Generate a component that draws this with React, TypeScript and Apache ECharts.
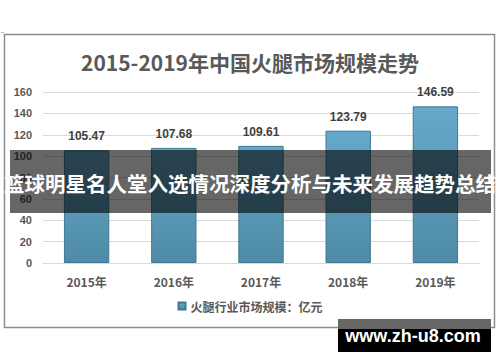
import React, { useEffect, useRef } from "react";
import * as echarts from "echarts";

const titleText = "2015-2019年中国火腿市场规模走势";
const categories = ["2015年", "2016年", "2017年", "2018年", "2019年"];
const values = [105.47, 107.68, 109.61, 123.79, 146.59];
const seriesName = "火腿行业市场规模：亿元";
const overlayText = "篮球明星名人堂入选情况深度分析与未来发展趋势总结";
const watermarkText = "www.zh-u8.com";

export default function App() {
  const ref = useRef<HTMLDivElement>(null);
  useEffect(() => {
    if (!ref.current) return;
    const chart = echarts.init(ref.current, null, { renderer: "svg" });
    const cjk = "'Noto Sans CJK SC', 'Liberation Sans', sans-serif";
    chart.setOption({
      animation: false,
      backgroundColor: "#ffffff",
      title: {
        text: titleText,
        left: "center",
        top: 46,
        textStyle: { fontSize: 21, fontWeight: "bold", color: "#595959", fontFamily: cjk },
      },
      legend: {
        data: [seriesName],
        bottom: 45,
        left: "center",
        itemWidth: 7,
        itemHeight: 7,
        icon: "rect",
        textStyle: { fontSize: 12, fontWeight: "bold", color: "#595959", fontFamily: cjk },
      },
      grid: { left: 43, right: 21, top: 92, bottom: 99 },
      xAxis: {
        type: "category",
        data: categories,
        axisTick: { show: false },
        axisLine: { lineStyle: { color: "#d9d9d9" } },
        axisLabel: { fontSize: 12, fontWeight: "bold", color: "#595959", margin: 12, fontFamily: cjk },
      },
      yAxis: {
        type: "value",
        min: 0,
        max: 160,
        interval: 20,
        axisLine: { show: false },
        axisTick: { show: false },
        splitLine: { lineStyle: { color: "#d9d9d9" } },
        axisLabel: { fontSize: 11, fontWeight: "bold", color: "#595959", margin: 11, fontFamily: "'Liberation Sans', sans-serif" },
      },
      series: [
        {
          name: seriesName,
          type: "bar",
          data: values,
          barWidth: "52%",
          itemStyle: {
            color: new echarts.graphic.LinearGradient(0, 0, 0, 1, [
              { offset: 0, color: "#66a9ca" },
              { offset: 1, color: "#4f8ba6" },
            ]),
            borderColor: "#3f7891",
            borderWidth: 1,
          },
          label: {
            show: true,
            position: "top",
            distance: 8,
            fontSize: 12,
            fontWeight: "bold",
            color: "#404040",
            fontFamily: "'Liberation Sans', sans-serif",
          },
        },
      ],
      graphic: [
        {
          type: "rect",
          z: 0,
          silent: true,
          shape: { x: 4.5, y: 34.5, width: 490, height: 293 },
          style: { fill: "none", stroke: "#8c8c8c", lineWidth: 1.5 },
        },
        {
          type: "line",
          z: 0,
          silent: true,
          shape: { x1: 1, y1: 32.5, x2: 4, y2: 32.5 },
          style: { stroke: "#bbbbbb", lineWidth: 1 },
        },
        {
          type: "rect",
          z: 100,
          silent: true,
          shape: { x: 10, y: 150, width: 481, height: 63 },
          style: { fill: "rgba(0,0,0,0.6)" },
        },
        {
          type: "text",
          z: 101,
          silent: true,
          x: 250,
          y: 183,
          style: {
            text: overlayText,
            fill: "#ffffff",
            fontSize: 20.5,
            fontWeight: "bold",
            fontFamily: cjk,
            align: "center",
            verticalAlign: "middle",
          },
        },
        {
          type: "rect",
          z: 100,
          silent: true,
          shape: { x: 338, y: 319, width: 153, height: 11 },
          style: { fill: "#666666" },
        },
        {
          type: "rect",
          z: 100,
          silent: true,
          shape: { x: 338, y: 329, width: 153, height: 23 },
          style: { fill: "#000000" },
        },
        {
          type: "text",
          z: 101,
          silent: true,
          x: 413,
          y: 336,
          style: {
            text: watermarkText,
            fill: "#ffffff",
            fontSize: 18,
            fontWeight: "bold",
            fontFamily: "'Liberation Sans', sans-serif",
            align: "center",
            verticalAlign: "middle",
          },
        },
      ],
    });
    return () => chart.dispose();
  }, []);
  return (
    <div
      ref={ref}
      style={{ position: "fixed", left: 0, top: 0, width: 500, height: 362 }}
    />
  );
}
